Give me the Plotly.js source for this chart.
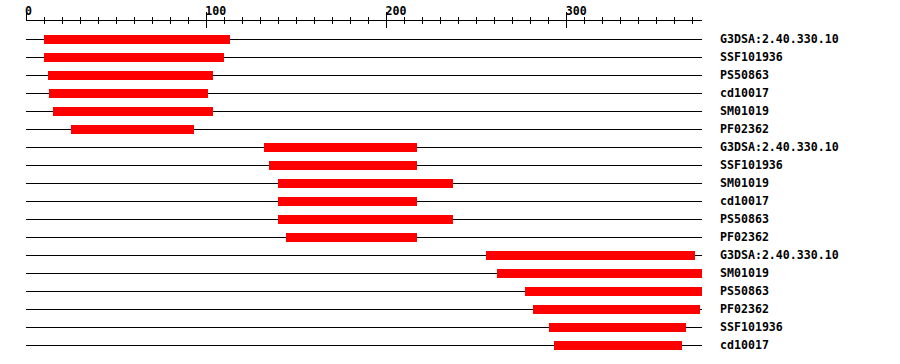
<!DOCTYPE html>
<html>
<head>
<meta charset="utf-8">
<script src="https://cdn.plot.ly/plotly-3.0.1.min.js"></script>
<style>html,body{margin:0;padding:0;background:#fff;}#chart{width:900px;height:364px;}</style>
</head>
<body>
<div id="chart"></div>
<script>
// Protein length (residues)
const proteinLength = 375;
// Feature labels, top to bottom
const labels = [
  "G3DSA:2.40.330.10", "SSF101936", "PS50863", "cd10017", "SM01019", "PF02362",
  "G3DSA:2.40.330.10", "SSF101936", "SM01019", "cd10017", "PS50863", "PF02362",
  "G3DSA:2.40.330.10", "SM01019", "PS50863", "PF02362", "SSF101936", "cd10017"
];
// Feature start / end positions
const starts = [10, 10, 12, 13, 15, 25, 132, 135, 140, 140, 140, 144, 255, 261, 277, 281, 290, 293];
const ends   = [113, 110, 104, 101, 104, 93, 217, 217, 237, 217, 237, 217, 371, 375, 375, 374, 366, 364];
// Axis ticks
const majorTicks = [0, 100, 200, 300];
const minorStep = 10;

const rows = labels.map((_, i) => i);

// baseline lines for each row
const lx = [], ly = [];
rows.forEach(r => { lx.push(0, proteinLength, null); ly.push(r, r, null); });

const lineTrace = {
  type: 'scatter', mode: 'lines', x: lx, y: ly,
  xaxis: 'x', yaxis: 'y',
  line: {color: '#000000', width: 1},
  hoverinfo: 'skip', showlegend: false
};

const barTrace = {
  type: 'bar', orientation: 'h',
  y: rows, base: starts, x: ends.map((e, i) => e - starts[i]),
  width: 0.5,
  xaxis: 'x2', yaxis: 'y',
  marker: {color: '#FF0000', line: {width: 0}},
  hoverinfo: 'skip', showlegend: false
};

const tickFont = {family: '"DejaVu Sans Mono", monospace', size: 11.6, color: '#000000', weight: 'bold'};

// half-pixel shift so 1px row lines land on whole pixel rows
const yShift = -0.5 / 18;

const layout = {
  width: 900, height: 364,
  margin: {l: 26, r: 198, t: 21, b: 10, pad: 0},
  paper_bgcolor: '#ffffff', plot_bgcolor: '#ffffff',
  showlegend: false, hovermode: false,
  xaxis: {
    range: [0, proteinLength], side: 'top', showgrid: false, zeroline: false,
    showline: true, linecolor: '#000000', linewidth: 1,
    tickmode: 'array', tickvals: majorTicks, ticktext: majorTicks.map(String),
    ticks: 'outside', ticklen: 8, tickwidth: 1, tickcolor: '#000000',
    ticklabelposition: 'outside right', ticklabelshift: -2,
    minor: {dtick: minorStep, tick0: 0, ticks: 'outside', ticklen: 3, tickwidth: 1, tickcolor: '#000000', showgrid: false},
    tickfont: tickFont, fixedrange: true
  },
  xaxis2: {
    range: [0, proteinLength], overlaying: 'x', side: 'top', anchor: 'y',
    showgrid: false, zeroline: false, showline: false,
    tickmode: 'array', tickvals: majorTicks, showticklabels: false,
    ticks: 'inside', ticklen: 7, tickwidth: 1, tickcolor: '#000000',
    minor: {dtick: minorStep, tick0: 0, ticks: 'inside', ticklen: 3, tickwidth: 1, tickcolor: '#000000', showgrid: false},
    fixedrange: true
  },
  yaxis: {
    range: [17.5 + yShift, -1 + yShift], side: 'right', showgrid: false, zeroline: false, showline: false,
    tickmode: 'array', tickvals: rows, ticktext: labels,
    ticks: '', ticklabelstandoff: 17, ticklabelshift: 1,
    tickfont: tickFont, fixedrange: true
  },
  bargap: 0
};

Plotly.newPlot('chart', [lineTrace, barTrace], layout, {displayModeBar: false, staticPlot: true});
</script>
</body>
</html>
